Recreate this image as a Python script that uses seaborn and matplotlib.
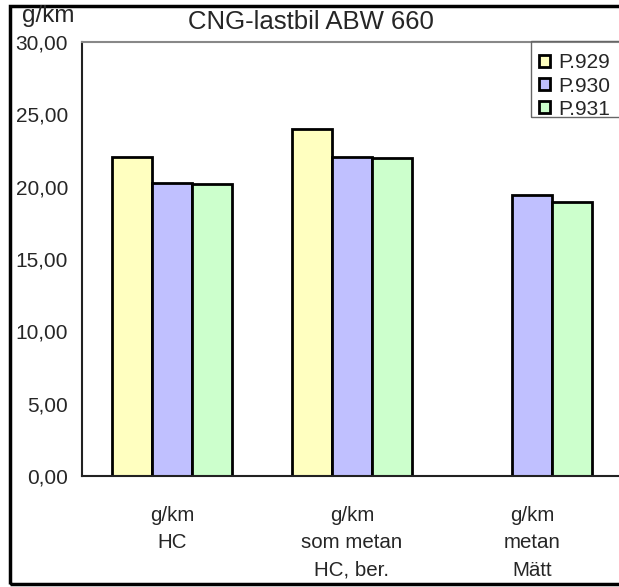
import matplotlib
matplotlib.use("Agg")
import matplotlib.pyplot as plt
import matplotlib.patches as mpatches
from matplotlib.ticker import FuncFormatter, FixedLocator
import seaborn as sns
import pandas as pd
import numpy as np

categories = ["g/km\nHC", "g/km\nsom metan\nHC, ber.", "g/km\nmetan\nMätt"]
series = ["P.929", "P.930", "P.931"]
p929 = [22.07, 24.0, np.nan]
p930 = [20.27, 22.07, 19.42]
p931 = [20.20, 22.00, 18.94]
colors = ["#FFFFC0", "#C0C0FF", "#CCFFCC"]
title = "CNG-lastbil ABW 660"
ylabel = "g/km"
yticks = [0, 5, 10, 15, 20, 25, 30]

rows = []
for s, vals in zip(series, [p929, p930, p931]):
    for c, v in zip(categories, vals):
        rows.append({"cat": c, "series": s, "val": v})
df = pd.DataFrame(rows)

sns.set_style("white")
plt.rcParams["font.family"] = ["Liberation Sans", "DejaVu Sans"]

fig = plt.figure(figsize=(6.19, 5.87), dpi=100)
ax = fig.add_axes([82/619, 1-476/587, 540/619, 434/587])

sns.barplot(data=df, x="cat", y="val", hue="series", order=categories,
            hue_order=series, palette=colors, edgecolor="black", linewidth=2,
            width=2/3, gap=0, ax=ax, saturation=1, errorbar=None)

ax.set_xlim(-0.5, 2.5)
ax.set_ylim(0, 30)
ax.set_yticks(yticks)
ax.yaxis.set_major_formatter(FuncFormatter(lambda v, p: f"{v:.2f}".replace(".", ",")))
ax.xaxis.set_major_locator(FixedLocator([-0.5, 0.5, 1.5, 2.5]))
ax.xaxis.set_minor_locator(FixedLocator([0, 1, 2]))
ax.set_xticklabels(["", "", "", ""])
ax.set_xticklabels(categories, minor=True, fontsize=14.8, va="top", linespacing=1.56)
ax.tick_params(axis="x", which="major", direction="inout", length=12, width=1, color="#333333")
ax.tick_params(axis="x", which="minor", length=0, pad=21.5)
ax.tick_params(axis="y", direction="inout", length=12, width=1, color="#333333",
               labelsize=15, pad=4)
ax.set_xlabel("")
ax.set_ylabel("")

for side in ["left", "bottom"]:
    ax.spines[side].set_color("#222222")
    ax.spines[side].set_linewidth(1.5)
ax.spines["top"].set_color("#888888")
ax.spines["top"].set_linewidth(1.5)
ax.spines["right"].set_visible(False)

leg = ax.legend(loc="upper left", bbox_to_anchor=(531/619, 1-45/587),
                bbox_transform=fig.transFigure, frameon=False,
                fontsize=15, handlelength=0.5, handleheight=0.5, handletextpad=0.42,
                borderpad=0.4, labelspacing=0.2, borderaxespad=0)
for h in leg.legend_handles:
    h.set_edgecolor("black")
    h.set_linewidth(2)

fig.patches.append(mpatches.Rectangle((531/619, 1-117/587), 0.2, 76/587,
                                      transform=fig.transFigure, fill=False,
                                      edgecolor="#666666", linewidth=1, zorder=5))

fig.text(311/619, 1-22/587, title, ha="center", va="center", fontsize=18.5)
fig.text(48/619, 1-16/587, ylabel, ha="center", va="center", fontsize=17.5)

fig.patches.append(mpatches.Rectangle((10/619, 3/587), 0.99, 1-9/587,
                                      transform=fig.transFigure, fill=False,
                                      edgecolor="black", linewidth=2.5))

fig.savefig("out.png", dpi=100)
